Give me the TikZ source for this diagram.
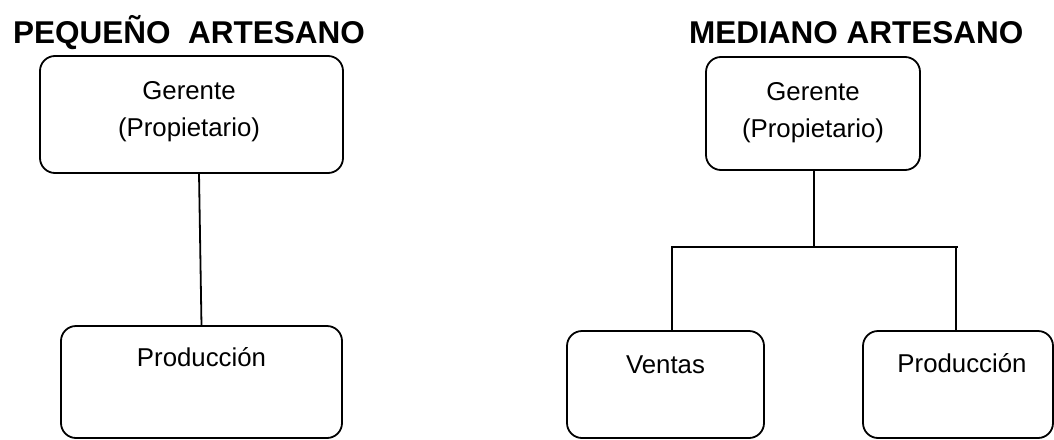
\documentclass[tikz,border=0pt]{standalone}
\usepackage{fontspec}
\setmainfont{Liberation Sans}
\begin{document}
\begin{tikzpicture}[x=1pt,y=-1pt,
  box/.style={draw, line width=1.8pt, rounded corners=15pt, inner sep=0pt, outer sep=0pt},
  conn/.style={draw, line width=1.8pt},
  title/.style={font=\bfseries\fontsize{31.5}{36}\selectfont, inner sep=0pt, anchor=base west},
  lbl/.style={font=\fontsize{25.8}{37.7}\selectfont, inner sep=0pt, align=center}]
\useasboundingbox (0,0) rectangle (1054,439);
% titles
\node[title] (t1) at (13,43.5) {PEQUEÑO\ \ ARTESANO};
\node[title] (t2) at (689,43.5) {MEDIANO ARTESANO};
% left chart
\node[box, minimum width=303pt, minimum height=117pt] (A) at (191.5,114.5) {};
\node[box, minimum width=281pt, minimum height=112pt] (B) at (201.5,382) {};
\node[lbl, anchor=north] (Atxt) at ([xshift=-2.5pt,yshift=-25pt]A.north) {Gerente\\(Propietario)};
\node[lbl, anchor=base] (Btxt) at ([yshift=-40.7pt]B.north) {Producción};
\draw[conn] ([xshift=7.5pt]A.south) -- (B.north);
% right chart
\node[box, minimum width=214pt, minimum height=113pt] (C) at (813,113.5) {};
\node[box, minimum width=197pt, minimum height=107pt] (D) at (665.5,384.5) {};
\node[box, minimum width=190pt, minimum height=107pt] (E) at (958,384.5) {};
\node[lbl, anchor=north] (Ctxt) at ([yshift=-25pt]C.north) {Gerente\\(Propietario)};
\node[lbl, anchor=base] (Dtxt) at ([yshift=-42.5pt]D.north) {Ventas};
\node[lbl, anchor=base] (Etxt) at ([xshift=4pt,yshift=-41.7pt]E.north) {Producción};
\coordinate (bus) at (814,246.7);
\coordinate (busR) at (957.5,246.7);
\draw[conn] ([xshift=1pt]C.south) -- (bus);
\draw[conn] ([xshift=6.5pt]D.north) |- (busR);
\draw[conn] ([xshift=-2pt]E.north) -- ([xshift=-2pt]E.north |- bus);
\end{tikzpicture}
\end{document}
